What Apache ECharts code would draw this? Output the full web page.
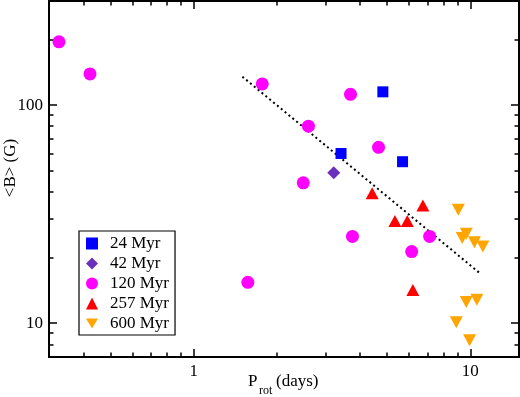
<!DOCTYPE html>
<html><head><meta charset="utf-8">
<script src="https://cdn.jsdelivr.net/npm/echarts@6/dist/echarts.min.js"></script>
<style>html,body{margin:0;padding:0;background:#fff}#c{width:520px;height:397px}</style>
</head><body><div id="c"></div>
<script>
const seriesNames = ['24 Myr', '42 Myr', '120 Myr', '257 Myr', '600 Myr'];
const p24 = [4.83, 3.41, 5.69];
const b24 = [115, 60, 55];
const p42 = [3.21];
const b42 = [49];
const p120 = [0.326, 0.422, 1.77, 3.69, 2.60, 4.66, 2.49, 1.57, 3.75, 6.14, 7.13];
const b120 = [195, 139, 125, 112, 80, 64, 44, 15.4, 25, 21.3, 25];
const p257 = [4.42, 6.74, 5.34, 5.92, 6.20];
const b257 = [39.4, 34.6, 29.4, 29.4, 14.2];
const p600 = [9.05, 9.67, 9.35, 10.35, 11.1, 9.67, 10.56, 8.90, 9.94];
const b600 = [33.1, 25.7, 24.6, 23.5, 22.5, 12.5, 12.8, 10.1, 8.36];
const trendP = [1.5, 10.8];
const trendB = [135, 17];
const xMajorTicks = [1, 10];
const yMajorTicks = [10, 100];
const xMinorTicks = [0.4, 0.5, 0.6, 0.7, 0.8, 0.9, 2, 3, 4, 5, 6, 7, 8, 9];
const yMinorTicks = [8, 9, 20, 30, 40, 50, 60, 70, 80, 90, 200];
const xRange = [0.3, 15];
const yRange = [7, 300];

const L = Math.log10;
const zip = (a, b) => a.map((v, i) => [v, b[i]]);
const FONT = 'Liberation Serif';
const downTri = 'path://M0,0L20,0L10,17Z';

function auxAxis(pos, range, ticks, len, withLine, withLabels) {
  return {
    type: 'value', gridIndex: 0, position: pos,
    min: L(range[0]), max: L(range[1]),
    axisLine: {show: withLine, onZero: false, lineStyle: {color: '#000', width: 2}},
    axisTick: {show: true, inside: true, length: len, customValues: ticks.map(L),
      lineStyle: {color: '#000', width: 1.5}},
    axisLabel: {show: withLabels, customValues: ticks.map(L), margin: 6,
      formatter: v => String(Math.round(Math.pow(10, v))),
      fontFamily: FONT, fontSize: 17, color: '#000'},
    splitLine: {show: false}
  };
}

const chart = echarts.init(document.getElementById('c'), null, {renderer: 'canvas'});
chart.setOption({
  animation: false,
  backgroundColor: '#fff',
  grid: {left: 49, right: 1, top: 1, bottom: 40},
  xAxis: [
    {type: 'log', logBase: 10, min: xRange[0], max: xRange[1], show: false},
    auxAxis('bottom', xRange, xMajorTicks, 8, true, true),
    auxAxis('bottom', xRange, xMinorTicks, 4.5, false, false),
    auxAxis('top', xRange, xMajorTicks, 8, true, false),
    auxAxis('top', xRange, xMinorTicks, 4.5, false, false)
  ],
  yAxis: [
    {type: 'log', logBase: 10, min: yRange[0], max: yRange[1], show: false},
    auxAxis('left', yRange, yMajorTicks, 8, true, true),
    auxAxis('left', yRange, yMinorTicks, 4.5, false, false),
    auxAxis('right', yRange, yMajorTicks, 8, true, false),
    auxAxis('right', yRange, yMinorTicks, 4.5, false, false)
  ],
  legend: {
    orient: 'vertical', left: 79, top: 231,
    borderColor: '#000', borderWidth: 1.2, backgroundColor: '#fff',
    padding: [4, 6, 3, 7], itemGap: 3, itemWidth: 12, itemHeight: 12,
    textStyle: {fontFamily: FONT, fontSize: 17, color: '#000', lineHeight: 17, padding: [0, 0, 0, 7]},
    data: [
      {name: seriesNames[0], icon: 'rect'},
      {name: seriesNames[1], icon: 'diamond'},
      {name: seriesNames[2], icon: 'circle'},
      {name: seriesNames[3], icon: 'triangle'},
      {name: seriesNames[4], icon: downTri}
    ]
  },
  graphic: [
    {type: 'text', x: 248, y: 382, style: {text: 'P', font: '17px "Liberation Serif"', fill: '#000', verticalAlign: 'middle', align: 'left'}},
    {type: 'text', x: 259, y: 391, style: {text: 'rot', font: '12px "Liberation Serif"', fill: '#000', verticalAlign: 'middle', align: 'left'}},
    {type: 'text', x: 276, y: 382, style: {text: '(days)', font: '17px "Liberation Serif"', fill: '#000', verticalAlign: 'middle', align: 'left'}},
    {type: 'text', x: 11, y: 168, rotation: Math.PI / 2, style: {text: '<B> (G)', font: '17px "Liberation Serif"', fill: '#000', verticalAlign: 'middle', align: 'center'}}
  ],
  series: [
    {type: 'line', xAxisIndex: 0, yAxisIndex: 0, data: zip(trendP, trendB), symbol: 'none', z: 1,
      lineStyle: {color: '#000', width: 2, type: [2, 3]}, silent: true},
    {name: seriesNames[0], type: 'scatter', xAxisIndex: 0, yAxisIndex: 0, data: zip(p24, b24),
      symbol: 'rect', symbolSize: 11, itemStyle: {color: '#0000ff', opacity: 1}, z: 3},
    {name: seriesNames[1], type: 'scatter', xAxisIndex: 0, yAxisIndex: 0, data: zip(p42, b42),
      symbol: 'diamond', symbolSize: 13, itemStyle: {color: '#6a30bb', opacity: 1}, z: 3},
    {name: seriesNames[2], type: 'scatter', xAxisIndex: 0, yAxisIndex: 0, data: zip(p120, b120),
      symbol: 'circle', symbolSize: 13, itemStyle: {color: '#ff00ff', opacity: 1}, z: 3},
    {name: seriesNames[3], type: 'scatter', xAxisIndex: 0, yAxisIndex: 0, data: zip(p257, b257),
      symbol: 'triangle', symbolSize: [13, 12], itemStyle: {color: '#ff0000', opacity: 1}, z: 3},
    {name: seriesNames[4], type: 'scatter', xAxisIndex: 0, yAxisIndex: 0, data: zip(p600, b600),
      symbol: downTri, symbolSize: [13, 12], itemStyle: {color: '#ffa500', opacity: 1}, z: 3}
  ]
});
</script></body></html>
